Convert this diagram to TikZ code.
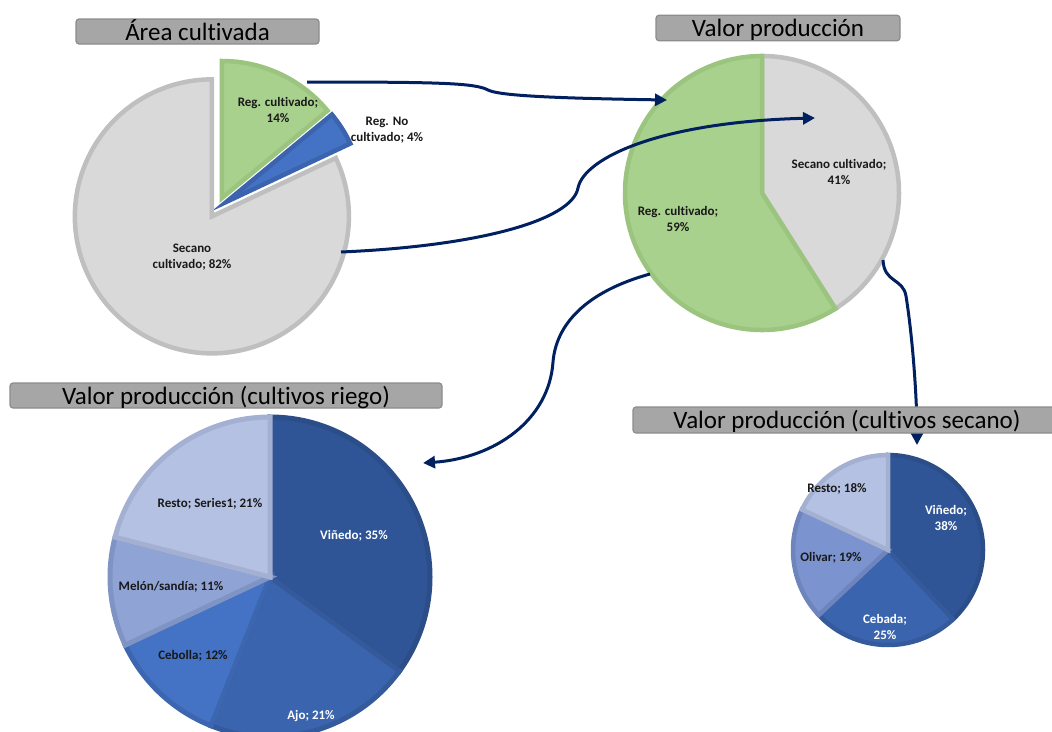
\documentclass[tikz,border=0pt]{standalone}
\usepackage{fontspec}
\setmainfont{Carlito}[Ligatures=NoCommon]
\usetikzlibrary{calc,arrows.meta}

\definecolor{agreen}{HTML}{A9D18E}
\definecolor{agreenb}{HTML}{9BC47E}
\definecolor{ablue}{HTML}{4472C4}
\definecolor{ablueb}{HTML}{3C64AE}
\definecolor{agray}{HTML}{D9D9D9}
\definecolor{agrayb}{HTML}{BFBFBF}
\definecolor{titlegray}{HTML}{A6A6A6}
\definecolor{titleborder}{HTML}{8C8C8C}
\definecolor{navy}{HTML}{002060}
\definecolor{vin}{HTML}{2F5597}
\definecolor{vinb}{HTML}{2B4D88}
\definecolor{ajo}{HTML}{3A64AE}
\definecolor{ajob}{HTML}{345A9C}
\definecolor{ceb}{HTML}{4472C4}
\definecolor{cebb}{HTML}{3D66B0}
\definecolor{mel}{HTML}{8FA3D5}
\definecolor{melb}{HTML}{7F93C5}
\definecolor{res}{HTML}{B4C1E3}
\definecolor{resb}{HTML}{A3B0D2}
\definecolor{oli}{HTML}{7B93CE}
\definecolor{olib}{HTML}{6E84BC}

\begin{document}
\begin{tikzpicture}[x=1pt,y=-1pt]
\tikzset{
% Title boxes, slice labels and the flow arrows
title box/.style={draw=titleborder,fill=titlegray,rounded corners=3pt,line width=1.2pt,inner sep=0pt,
  font=\fontsize{25}{25}\selectfont,text height=17pt,text depth=0pt},
dark label/.style={font=\bfseries\fontsize{13}{15.5}\selectfont,align=center,text=black!90},
light label/.style={dark label,text=white},
slice/.style={line width=4.5pt},
flow/.style={draw=navy,line width=3pt,-{Triangle[length=12pt,width=12pt]}}
}

\useasboundingbox (0,0) rectangle (1052,731);

% Area cultivada (slices pulled out)
\coordinate (c1) at (217.5,207.5);
\foreach \a/\b/\f in {0/50.4/agreen,50.4/64.8/ablue,64.8/360/agray}
  \draw[slice,fill=\f,draw=\f b] ($(c1)+({(\a+\b)/2-90}:10.5)$) -- ++(\a-90:137)
    arc[start angle=\a-90,end angle=\b-90,radius=137] -- cycle;

% Valor produccion
\coordinate (c2) at (762,193);
\foreach \a/\b/\f in {0/147.6/agray,147.6/360/agreen}
  \draw[slice,fill=\f,draw=\f b] (c2) -- ++(\a-90:137)
    arc[start angle=\a-90,end angle=\b-90,radius=137] -- cycle;

% Valor produccion, cultivos riego
\coordinate (c3) at (270,577);
\foreach \a/\b/\f in {0/126/vin,126/201.6/ajo,201.6/244.8/ceb,244.8/284.4/mel,284.4/360/res}
  \draw[slice,line width=5pt,fill=\f,draw=\f b] (c3) -- ++(\a-90:160)
    arc[start angle=\a-90,end angle=\b-90,radius=160] -- cycle;

% Valor produccion, cultivos secano
\coordinate (c4) at (888,550);
\foreach \a/\b/\f in {0/136.8/vin,136.8/226.8/ajo,226.8/295.2/oli,295.2/360/res}
  \draw[slice,fill=\f,draw=\f b] (c4) -- ++(\a-90:95)
    arc[start angle=\a-90,end angle=\b-90,radius=95] -- cycle;

% flows between the charts
\coordinate (s1) at (307,82);
\coordinate (e1) at (667,100);
\coordinate (s2) at (341,252);
\coordinate (e2) at (815,118);
\coordinate (s3) at (650,274);
\coordinate (e3) at (423,463);
\coordinate (s4) at (883,260);
\coordinate (e4) at (917,445);
\draw[flow] (s1) .. controls (440,82) and (475,83) .. (488,90) .. controls (498,95) and (540,98) .. (e1);
\draw[flow] (s2) .. controls (480,246) and (572,220) .. (578,188) .. controls (584,158) and (660,122) .. (e2);
\draw[flow] (s3) .. controls (585,292) and (556,325) .. (553,362) .. controls (549,420) and (495,458) .. (e3);
\draw[flow] (s4) .. controls (884,283) and (903,278) .. (906,296) .. controls (913,340) and (917,400) .. (e4);

% titles
\node[title box,minimum width=243,minimum height=25] (t1) at (197.5,31.5) {Área cultivada};
\node[title box,minimum width=244,minimum height=25.5] (t2) at (778,28) {Valor producción};
\node[title box,minimum width=432,minimum height=25] (t3) at (226,395.5) {Valor producción (cultivos riego)};
\node[title box,minimum width=428,minimum height=26] (t4) at (847,420) {Valor producción (cultivos secano)};

% slice labels
\node[dark label] (regc) at (278,110) {Reg. cultivado;\\14\%};
\node[dark label] (regn) at (387,130) {Reg. No\\cultivado; 4\%};
\node[dark label] (secc) at (192,257) {Secano\\cultivado; 82\%};
\node[dark label] (vsec) at (839,172) {Secano cultivado;\\41\%};
\node[dark label] (vreg) at (678,219) {Reg. cultivado;\\59\%};
\node[dark label] (rres) at (210,504) {Resto; Series1; 21\%};
\node[light label] (rvin) at (354,536) {Viñedo; 35\%};
\node[dark label] (rmel) at (171,587) {Melón/sandía; 11\%};
\node[dark label] (rceb) at (193,656) {Cebolla; 12\%};
\node[light label] (rajo) at (311,716) {Ajo; 21\%};
\node[light label] (svin) at (946,518) {Viñedo;\\38\%};
\node[light label] (sceb) at (885,627) {Cebada;\\25\%};
\node[dark label] (soli) at (831,558) {Olivar; 19\%};
\node[dark label] (sres) at (837,489) {Resto; 18\%};
\end{tikzpicture}
\end{document}
